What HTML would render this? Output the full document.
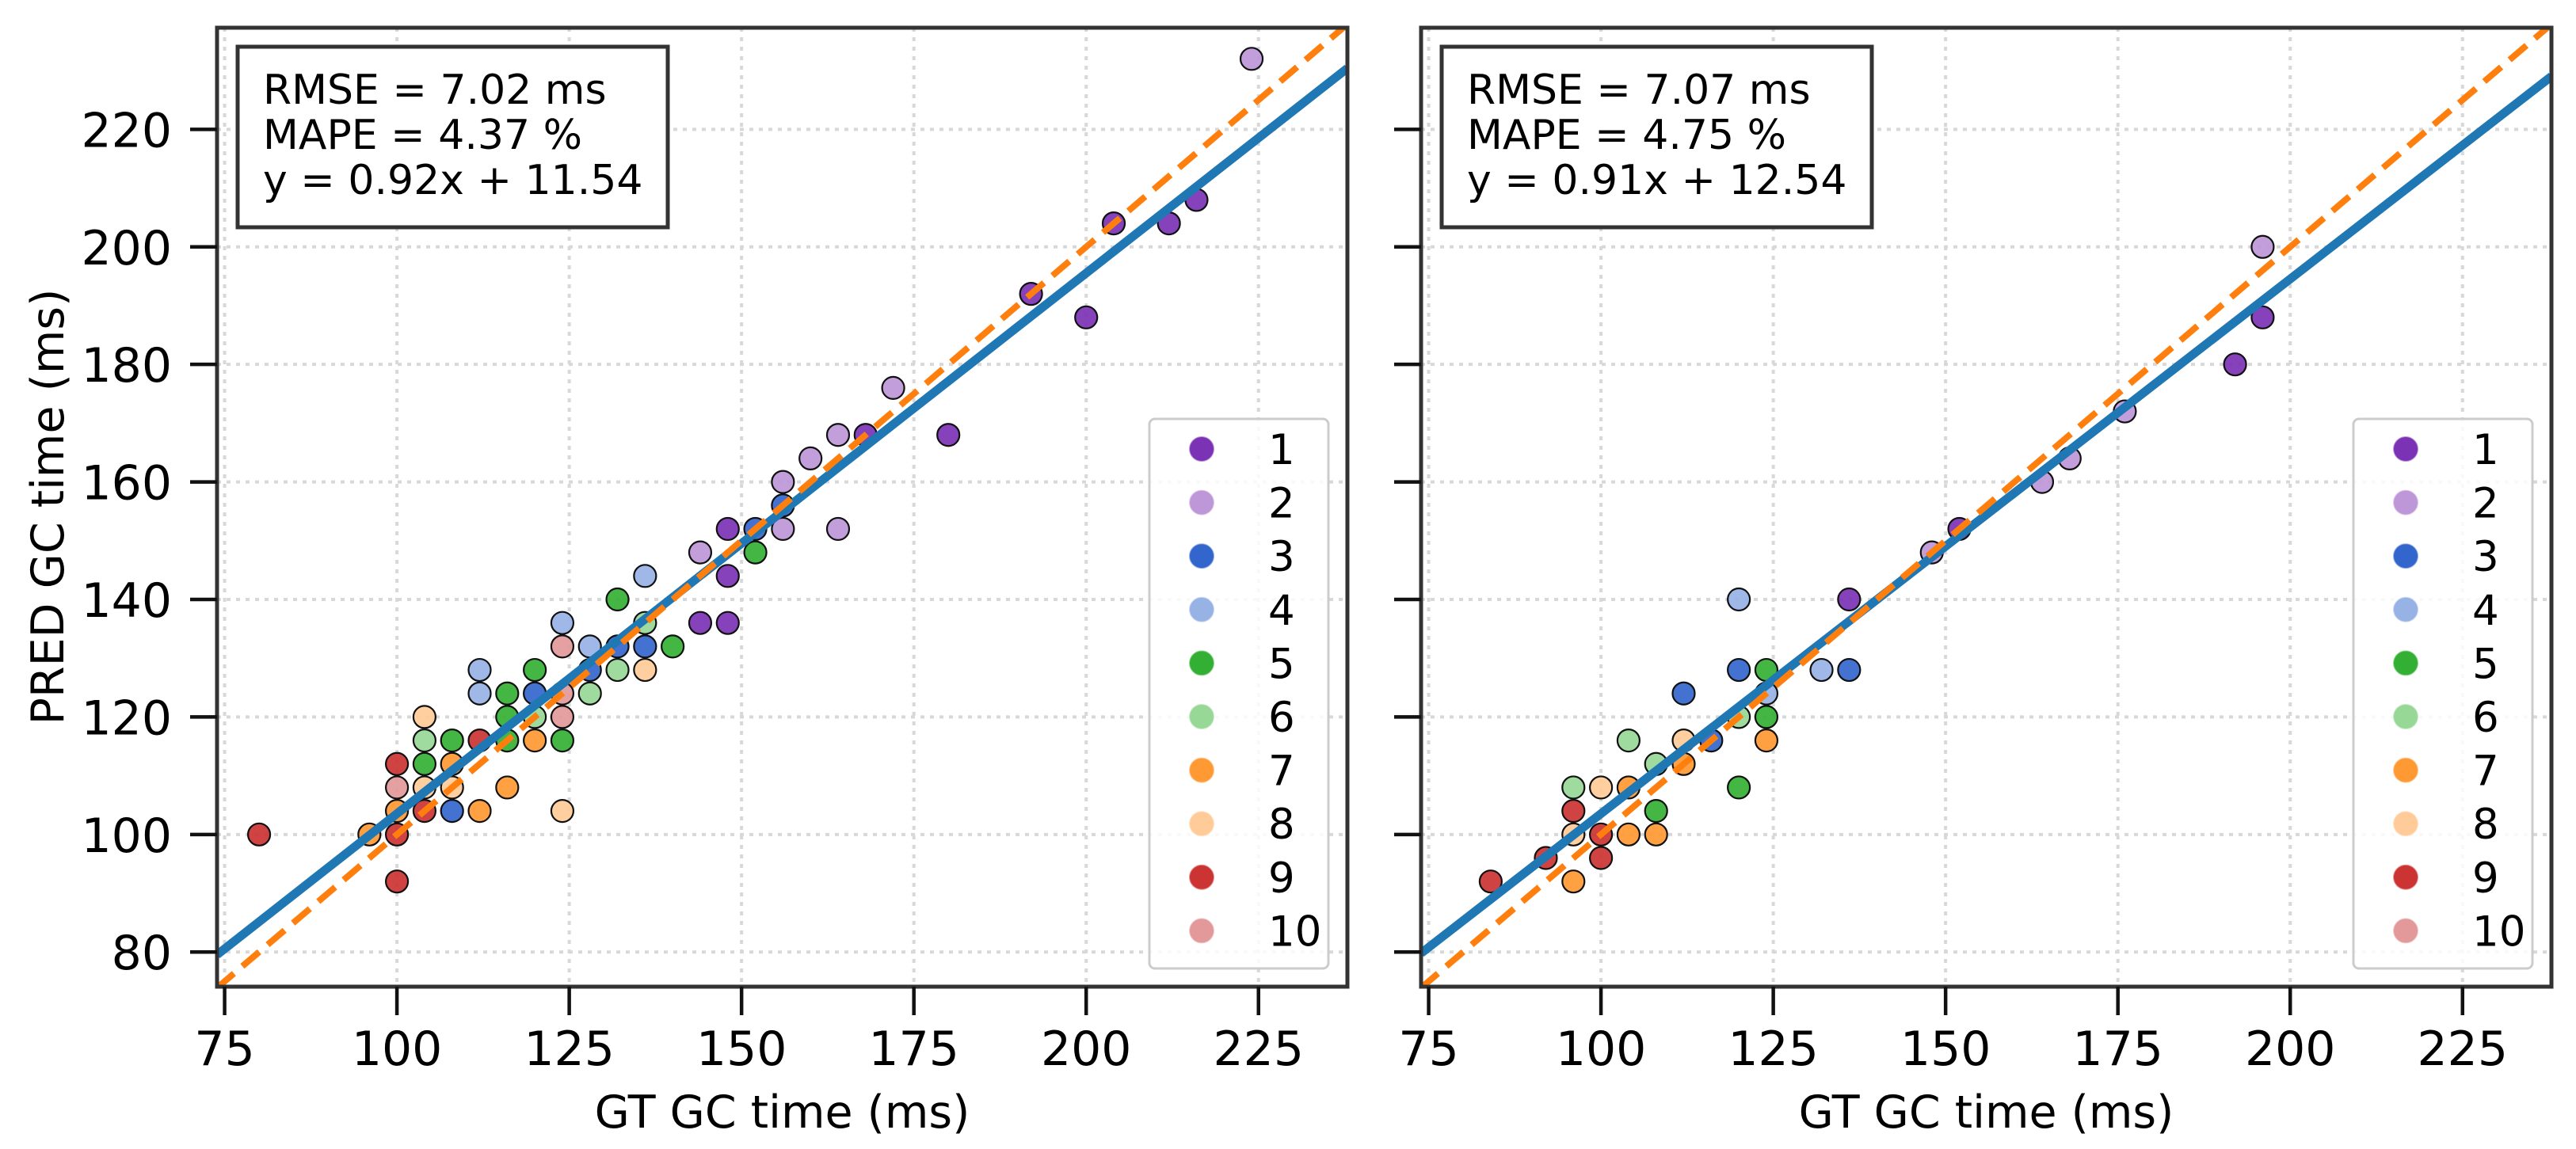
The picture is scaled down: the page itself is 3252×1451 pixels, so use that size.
<!DOCTYPE html>
<html><head><meta charset="utf-8"><style>
html,body{margin:0;padding:0;background:#fff}
svg{display:block}
text{font-family:"DejaVu Sans","Liberation Sans",sans-serif;fill:#000}
</style></head><body>
<svg id="fig" xmlns="http://www.w3.org/2000/svg" width="3252" height="1451" viewBox="0 0 3252 1451">
<rect width="3252" height="1451" fill="#fff"/>
</svg>
<script>
// ---- data ----
const seriesLabels = ["1","2","3","4","5","6","7","8","9","10"];
const seriesColors = ["#7b32b4","#bd97d8","#3366cc","#97b2e5","#33b033","#97d897","#ff9933","#ffcb98","#cc3333","#e39999"];
const leftGT   = [80,96,100,100,100,100,100,104,104,104,104,104,108,108,108,108,112,112,112,112,116,116,116,116,120,120,120,120,124,124,124,124,124,124,128,128,128,132,132,132,136,136,136,136,140,144,144,148,148,148,152,152,156,156,156,160,164,164,168,172,180,192,200,204,212,216,224];
const leftPred = [100,100,100,92,104,108,112,104,108,112,116,120,104,108,112,116,104,116,124,128,108,116,120,124,116,120,124,128,104,116,120,124,132,136,124,128,132,128,132,140,128,132,136,144,132,136,148,136,144,152,148,152,152,156,160,164,168,152,168,176,168,192,188,204,204,208,232];
const leftSer  = [9,7,9,9,7,10,9,9,8,5,6,8,3,8,7,5,7,9,4,4,7,5,5,5,7,6,3,5,8,5,10,10,10,4,6,3,4,6,3,5,8,3,6,4,5,1,2,1,1,1,5,3,2,3,2,2,2,2,1,2,1,1,1,1,1,1,2];
const rightGT   = [84,92,96,96,96,96,100,100,100,104,104,104,108,108,108,112,112,112,116,120,120,120,120,124,124,124,124,132,136,136,148,152,164,168,176,192,196,196];
const rightPred = [92,96,92,100,104,108,96,100,108,100,108,116,100,104,112,112,116,124,116,108,120,128,140,116,120,124,128,128,128,140,148,152,160,164,172,180,188,200];
const rightSer  = [9,9,7,8,9,6,9,9,8,7,7,6,7,5,6,7,8,3,3,5,6,3,4,7,5,4,5,4,3,1,2,1,2,2,2,1,1,2];
const xTicks = [75,100,125,150,175,200,225];
const yTicks = [80,100,120,140,160,180,200,220];
const leftStats = ["RMSE = 7.02 ms","MAPE = 4.37 %","y = 0.92x + 11.54"];
const rightStats = ["RMSE = 7.07 ms","MAPE = 4.75 %","y = 0.91x + 12.54"];
const leftFit = [0.92, 11.54];
const rightFit = [0.91, 12.54];

const NS = "http://www.w3.org/2000/svg";
const svg = document.getElementById("fig");
function mk(tag, attrs, parent){const e=document.createElementNS(NS,tag);for(const k in attrs)e.setAttribute(k,attrs[k]);(parent||svg).appendChild(e);return e;}

const XMIN=73.9, XMAX=237.9, YMIN=74.1, YMAX=237.3;
const TOP=35, BOT=1246, W=1427;

function panel(left, gt, pred, ser, stats, fit, showY, pname){
  const g = mk("g",{});
  
  
  const sx = v => left + (v-XMIN)/(XMAX-XMIN)*W;
  const sy = v => BOT - (v-YMIN)/(YMAX-YMIN)*(BOT-TOP);
  const clip = mk("clipPath",{id:"clip"+left},g);
  mk("rect",{x:left,y:TOP,width:W,height:BOT-TOP},clip);
  xTicks.forEach(t=>{const l=mk("line",{x1:sx(t),x2:sx(t),y1:TOP,y2:BOT,stroke:"#d8d8d8","stroke-width":4,"stroke-dasharray":"5 7"},g);
    });
  yTicks.forEach(t=>{const l=mk("line",{x1:left,x2:left+W,y1:sy(t),y2:sy(t),stroke:"#d8d8d8","stroke-width":4,"stroke-dasharray":"5 7"},g);
    });
  const cg = mk("g",{"clip-path":"url(#clip"+left+")"},g);
  for(let i=0;i<gt.length;i++){
    const c = mk("circle",{cx:sx(gt[i]),cy:sy(pred[i]),r:14,fill:seriesColors[ser[i]-1],"fill-opacity":0.92,stroke:"#111","stroke-width":2.2},cg);
    
    
  }
  const fl = mk("line",{x1:sx(XMIN),y1:sy(fit[0]*XMIN+fit[1]),x2:sx(XMAX),y2:sy(fit[0]*XMAX+fit[1]),stroke:"#1f77b4","stroke-width":11},cg);
  
  
  const il = mk("line",{x1:sx(XMIN),y1:sy(XMIN),x2:sx(XMAX),y2:sy(XMAX),stroke:"#ff7f0e","stroke-width":8,"stroke-dasharray":"28 14"},cg);
  
  
  const sp = mk("rect",{x:left,y:TOP,width:W,height:BOT-TOP,fill:"none",stroke:"#333","stroke-width":5},g);
  
  
  xTicks.forEach(t=>{
    mk("line",{x1:sx(t),x2:sx(t),y1:BOT,y2:BOT+36,stroke:"#111","stroke-width":4.5},g);
    const tx = mk("text",{x:sx(t),y:1345,"font-size":60,"text-anchor":"middle"},g);
    tx.textContent=t;
    
    
  });
  yTicks.forEach(t=>{
    mk("line",{x1:left-34,x2:left,y1:sy(t),y2:sy(t),stroke:"#111","stroke-width":4.5},g);
    if(showY){
      const tx = mk("text",{x:left-57,y:sy(t)+22,"font-size":60,"text-anchor":"end"},g);
      tx.textContent=t;
      
      
    }
  });
  const xl = mk("text",{x:left+W/2,y:1424,"font-size":57,"text-anchor":"middle"},g);
  xl.textContent="GT GC time (ms)";
  
  
  const sb = mk("g",{},g);
  
  
  mk("rect",{x:left+26,y:59,width:543,height:228,fill:"#fff",stroke:"#333","stroke-width":5},sb);
  stats.forEach((s,i)=>{
    const t = mk("text",{x:left+58,y:131+i*57,"font-size":52},sb);
    t.textContent=s;
    
    
  });
  const lg = mk("g",{},g);
  
  
  const lx = left+W-250, ly=529;
  mk("rect",{x:lx,y:ly,width:226,height:694,rx:7,fill:"#fff","fill-opacity":0.85,stroke:"#ccc","stroke-width":3},lg);
  seriesLabels.forEach((s,i)=>{
    const e = mk("g",{},lg);
    
    
    const cy = 567+i*67.6;
    mk("circle",{cx:lx+66,cy:cy,r:15,fill:seriesColors[i],stroke:seriesColors[i],"stroke-opacity":0.5,"stroke-width":2},e);
    const t = mk("text",{x:lx+150,y:cy+19,"font-size":53},e);
    t.textContent=s;
  });
}
panel(274, leftGT, leftPred, leftSer, leftStats, leftFit, true, "left-panel");
panel(1794, rightGT, rightPred, rightSer, rightStats, rightFit, false, "right-panel");
const yl = mk("text",{x:0,y:0,"font-size":57,"text-anchor":"middle",transform:"translate(80,640) rotate(-90)"});
yl.textContent="PRED GC time (ms)";


</script>
</body></html>
